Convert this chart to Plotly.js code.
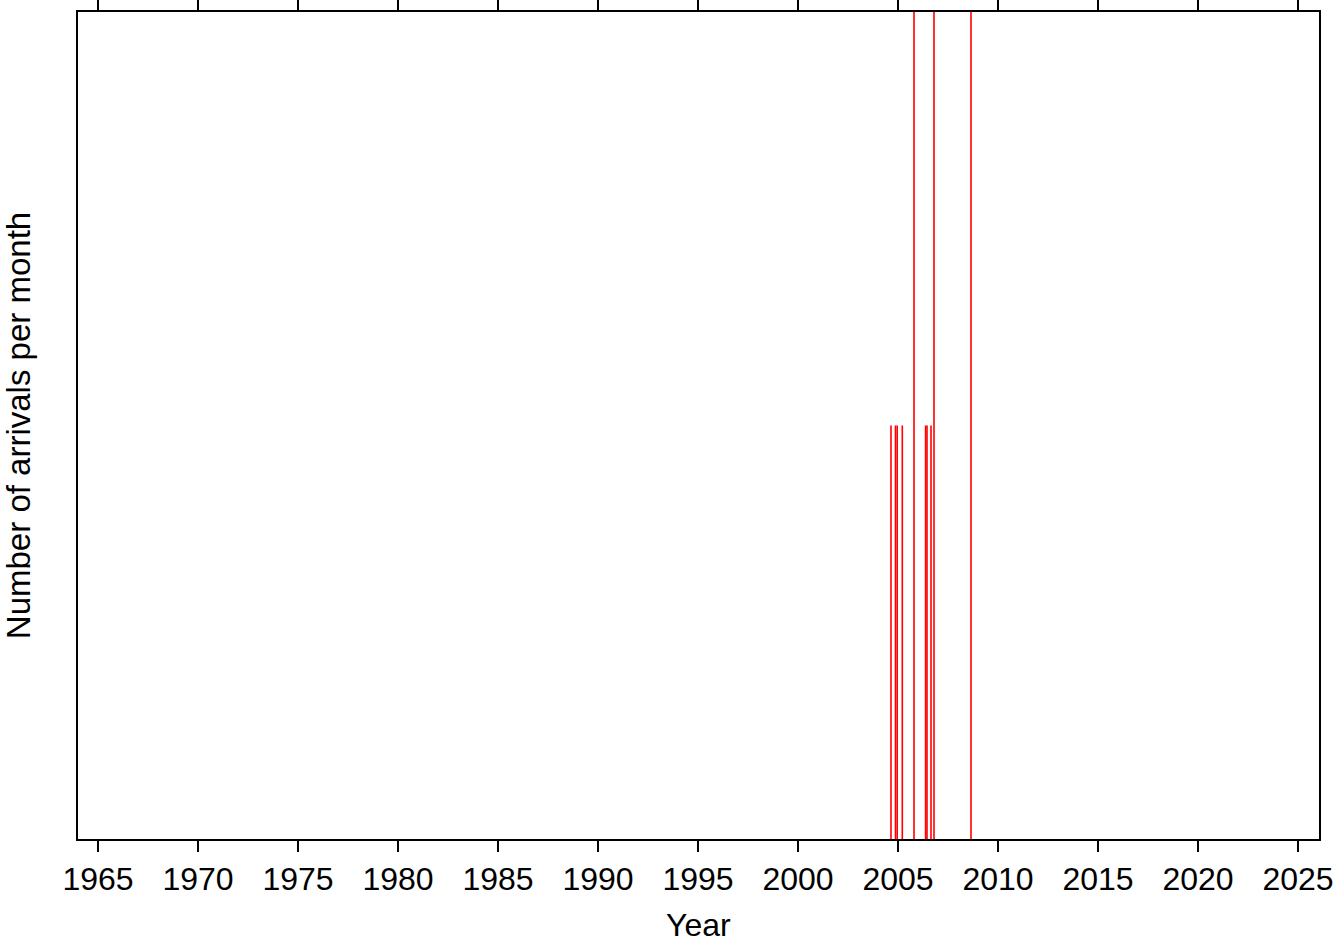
<!DOCTYPE html>
<html>
<head>
<meta charset="utf-8">
<script src="https://cdn.plot.ly/plotly-3.0.1.min.js"></script>
<style>html,body{margin:0;padding:0;background:#fff;}#chart{width:1344px;height:942px;}</style>
</head>
<body>
<div id="chart"></div>
<script>
// Arrival months (decimal year) and number of arrivals per month
const arrivalTimes = [2004.65, 2004.875, 2004.96, 2005.215, 2005.8, 2006.38, 2006.45, 2006.65, 2006.8, 2008.65];
const arrivalCounts = [1, 1, 1, 1, 2, 1, 1, 1, 2, 2];
const xTickVals = [1965, 1970, 1975, 1980, 1985, 1990, 1995, 2000, 2005, 2010, 2015, 2020, 2025];
const xTickText = ["1965","1970","1975","1980","1985","1990","1995","2000","2005","2010","2015","2020","2025"];
const xTitle = "Year";
const yTitle = "Number of arrivals per month";

const xs = [], ys = [];
arrivalTimes.forEach((t, i) => { xs.push(t, t, null); ys.push(0, arrivalCounts[i], null); });

const font = {family: "Liberation Sans, Arial, Helvetica, sans-serif", color: "#000"};
const data = [{
  type: "scatter", mode: "lines", x: xs, y: ys,
  line: {color: "#ff0000", width: 1.6}, hoverinfo: "skip", showlegend: false
}];
const layout = {
  width: 1344, height: 942,
  margin: {l: 78, r: 25, t: 12, b: 103},
  paper_bgcolor: "#fff", plot_bgcolor: "#fff",
  font: Object.assign({size: 32}, font),
  xaxis: {
    range: [1964, 2026.05], tickvals: xTickVals, ticktext: xTickText,
    ticks: "outside", ticklen: 11, tickwidth: 1.5, tickcolor: "#000",
    showline: true, linewidth: 2, linecolor: "#000", mirror: "allticks",
    showgrid: false, zeroline: false,
    tickfont: Object.assign({size: 32}, font)
  },
  yaxis: {
    range: [0, 2], showticklabels: false, ticks: "",
    showline: true, linewidth: 2, linecolor: "#000", mirror: true,
    showgrid: false, zeroline: false,
    title: {text: yTitle, font: Object.assign({size: 33}, font), standoff: 40}
  },
  annotations: [{
    text: xTitle, xref: "paper", yref: "paper", x: 0.5, y: -0.104,
    xanchor: "center", yanchor: "middle", showarrow: false, borderpad: 0,
    font: Object.assign({size: 32}, font)
  }]
};
Plotly.newPlot("chart", data, layout, {displayModeBar: false, staticPlot: true});
</script>
</body>
</html>
